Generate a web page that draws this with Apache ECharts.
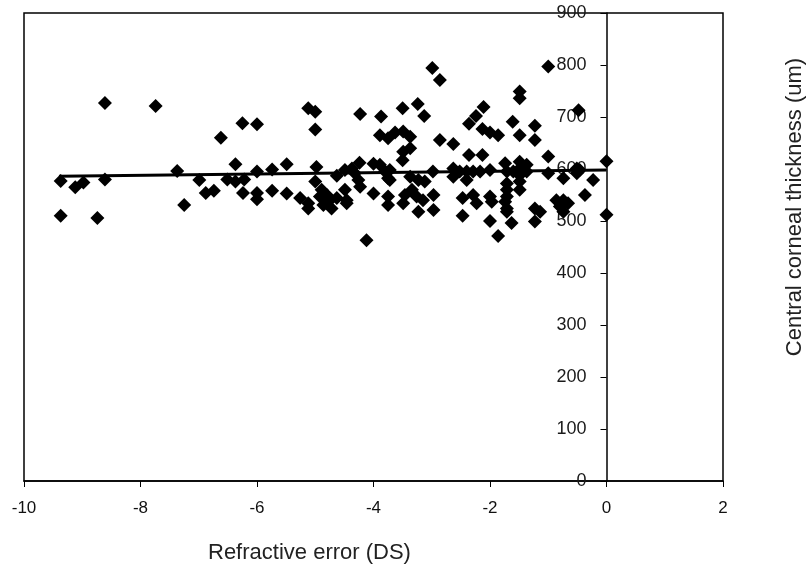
<!DOCTYPE html>
<html>
<head>
<meta charset="utf-8">
<script src="https://cdn.jsdelivr.net/npm/echarts@6/dist/echarts.min.js"></script>
<style>
html,body{margin:0;padding:0;background:#fff;}
#chart{width:810px;height:574px;}
</style>
</head>
<body>
<div id="chart"></div>
<script>
// Refractive error (DS) values
const refractiveError = [
 -9.37,-9.37,-9.12,-8.98,-8.74,-8.61,-8.61,-7.74,-7.37,-7.25,
 -6.99,-6.88,-6.74,-6.62,-6.51,-6.37,-6.37,-6.25,-6.22,-6.24,
 -6.0,-6.0,-6.0,-6.0,-5.74,-5.74,-5.49,-5.49,-5.26,-5.12,
 -5.0,-5.0,-5.12,-5.12,-4.98,-5.0,-4.89,-4.8,-4.92,-4.75,
 -4.86,-4.72,-4.63,-4.49,-4.46,-4.46,-4.63,-4.49,-4.37,-4.24,
 -4.32,-4.26,-4.23,-4.23,-4.12,-4.0,-4.0,-3.89,-3.89,-3.87,
 -3.8,-3.75,-3.75,-3.75,-3.75,-3.72,-3.72,-3.63,-3.5,-3.49,
 -3.37,-3.37,-3.49,-3.5,-3.49,-3.46,-3.37,-3.34,-3.26,-3.24,
 -3.23,-3.23,-3.15,-3.13,-3.12,-2.99,-2.98,-2.97,-2.97,-2.86,
 -2.86,-2.63,-2.63,-2.63,-2.52,-2.47,-2.47,-2.4,-2.4,-2.36,
 -2.36,-2.29,-2.29,-2.24,-2.23,-2.17,-2.13,-2.13,-2.11,-2.0,
 -2.0,-2.0,-1.97,-2.0,-1.86,-1.86,-1.74,-1.71,-1.71,-1.71,
 -1.71,-1.74,-1.71,-1.71,-1.63,-1.61,-1.6,-1.49,-1.49,-1.49,
 -1.49,-1.49,-1.49,-1.49,-1.49,-1.37,-1.37,-1.23,-1.23,-1.23,
 -1.14,-1.23,-1.0,-1.0,-1.0,-0.86,-0.8,-0.74,-0.74,-0.74,
 -0.66,-0.51,-0.51,-0.46,-0.48,-0.37,-0.23,0.0,0.0
];
// Central corneal thickness (um) values
const thickness = [
 577,510,565,574,506,580,727,721,596,531,
 579,554,558,660,580,609,576,688,580,554,
 686,595,554,542,599,558,609,553,544,717,
 710,676,534,524,604,576,560,550,547,540,
 531,524,544,560,540,534,587,598,601,612,
 592,579,566,706,463,610,553,608,665,701,
 595,582,659,547,531,598,579,670,717,672,
 662,640,633,617,534,550,585,560,547,725,
 579,518,540,702,576,794,595,550,521,771,
 656,648,601,585,595,544,510,595,579,687,
 627,595,550,702,534,595,677,627,719,670,
 598,547,537,500,665,471,611,595,572,560,
 547,537,524,518,496,691,595,749,736,665,
 614,601,588,576,560,608,595,683,656,524,
 518,499,797,624,592,540,528,582,540,518,
 534,601,592,598,713,550,579,615,512
];
// Linear trend line end points
const trendX = [-9.4, 0];
const trendY = [586, 598];
// Axis ticks
const xTicks = [-10, -8, -6, -4, -2, 0, 2];
const yTicks = [0, 100, 200, 300, 400, 500, 600, 700, 800, 900];
const yAxisAtX = 0;

const points = refractiveError.map((x, i) => [x, thickness[i]]);
const trend = trendX.map((x, i) => [x, trendY[i]]);

const GRID_LEFT = 24;
const FONT = 'Liberation Sans, Arial, sans-serif';
const chart = echarts.init(document.getElementById('chart'), null, {renderer: 'canvas'});
chart.setOption({
  animation: false,
  backgroundColor: '#fff',
  grid: {left: GRID_LEFT, right: 87, top: 13, bottom: 93, containLabel: false, outerBoundsMode: 'none',
         show: true, borderColor: '#000', borderWidth: 1.5, backgroundColor: 'transparent'},
  xAxis: {
    type: 'value', min: xTicks[0], max: xTicks[xTicks.length - 1], interval: 2,
    axisLine: {onZero: false, lineStyle: {color: '#000', width: 1.5}},
    axisTick: {show: true, length: 6, lineStyle: {color: '#000', width: 1}},
    splitLine: {show: false},
    axisLabel: {color: '#111', fontSize: 17, fontFamily: FONT, margin: 19}
  },
  yAxis: {
    type: 'value', min: yTicks[0], max: yTicks[yTicks.length - 1], interval: 100,
    position: 'left', offset: 0,
    axisLine: {onZero: false, lineStyle: {color: '#000', width: 1.5}},
    axisTick: {show: true, length: 6, lineStyle: {color: '#000', width: 1}},
    splitLine: {show: false},
    axisLabel: {color: '#1a1a1a', fontSize: 18, fontFamily: FONT, margin: 20}
  },
  series: [
    {type: 'scatter', data: points, symbol: 'diamond', symbolSize: 14, itemStyle: {color: '#000', opacity: 1}, z: 3},
    {type: 'line', data: trend, symbol: 'none', lineStyle: {color: '#000', width: 3}, z: 4}
  ],
  graphic: [
    {type: 'text', left: 208, top: 542, style: {text: 'Refractive error (DS)', fontSize: 22, fontFamily: FONT, fill: '#222'}},
    {type: 'text', x: 795, y: 207, rotation: Math.PI / 2, style: {text: 'Central corneal thickness (um)', fontSize: 22, fontFamily: FONT, fill: '#222', align: 'center', verticalAlign: 'middle'}}
  ]
});
// place the y axis at x = 0 using the library's x scale
const zeroPx = chart.convertToPixel({xAxisIndex: 0}, yAxisAtX);
chart.setOption({yAxis: {offset: -(zeroPx - GRID_LEFT)}});
</script>
</body>
</html>
